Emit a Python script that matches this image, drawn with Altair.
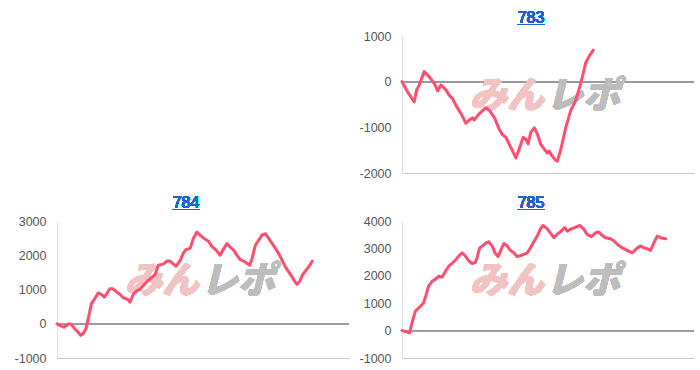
import altair as alt
import pandas as pd

# ---- data (x = position along the session, 0-100 of the axis span; y = balance) ----
titles = ["783", "784", "785"]

x783 = [0, 1.9, 3.6, 4.2, 5.0, 5.9, 7.6, 9.4, 11.1, 12.2, 13.3, 13.9, 15.1, 16.2, 17.3, 18.5,
        20.2, 21.9, 23.0, 24.2, 24.7, 26.5, 28.7, 29.9, 31.6, 33.3, 34.4, 35.6, 36.7, 37.9,
        39.0, 40.1, 41.5, 42.4, 43.2, 44.1, 45.3, 46.4, 47.5, 48.7, 49.8, 50.4, 51.2, 52.7,
        53.2, 54.4, 56.1, 57.8, 59.5, 60.7, 61.8, 62.9, 64.1, 65.5]
y783 = [0, -220, -390, -440, -185, -75, 220, 100, -40, -200, -75, -110, -185, -300, -370, -520,
        -700, -910, -840, -790, -840, -700, -570, -630, -780, -1040, -1160, -1220, -1370, -1520,
        -1670, -1480, -1220, -1260, -1360, -1110, -1010, -1150, -1370, -1480, -1560, -1520, -1610, -1730,
        -1740, -1480, -1000, -630, -410, -150, 110, 410, 560, 690]

x784 = [0, 0.9, 2.3, 3.2, 4.1, 4.9, 6.1, 7.2, 8.1, 8.9, 9.9, 10.7, 11.8, 12.9, 14.1, 15.2, 16.2,
        17.2, 18.1, 19.2, 20.4, 21.5, 22.7, 23.6, 24.4, 25.0, 26.1, 27.3, 28.4, 29.6, 30.7, 32.4,
        33.6, 34.7, 36.4, 37.6, 38.7, 39.9, 40.8, 42.2, 43.3, 44.2, 45.6, 46.7, 47.9, 49.0, 50.4,
        51.9, 53.0, 54.5, 55.9, 56.8, 58.2, 59.3, 60.5, 61.6, 62.8, 63.9, 65.1, 66.0, 66.8, 67.9,
        69.1, 70.2, 71.4, 72.5, 73.7, 74.8, 75.9, 77.1, 78.2, 79.4, 80.5, 81.3, 82.2, 83.2, 84.0,
        84.8, 85.9, 86.8, 87.4]
y784 = [0, -50, -100, -50, 0, -20, -150, -240, -340, -290, -150, 150, 590, 730, 900, 860, 780,
        900, 1020, 1020, 930, 860, 760, 730, 700, 630, 860, 960, 1000, 1120, 1220, 1350,
        1440, 1710, 1740, 1830, 1830, 1740, 1680, 1850, 2070, 2170, 2200, 2490, 2680, 2590, 2490,
        2410, 2260, 2150, 2000, 2150, 2340, 2240, 2150, 2000, 1870, 1830, 1760, 1710, 1900, 2290,
        2440, 2590, 2630, 2490, 2340, 2200, 2050, 1850, 1660, 1510, 1370, 1250, 1150, 1250, 1410,
        1510, 1630, 1740, 1830]

x785 = [0, 1.1, 2.6, 3.4, 4.6, 6.3, 7.4, 8.3, 9.1, 10.3, 11.4, 12.6, 13.7, 14.9, 16.0, 17.1, 18.3,
        19.4, 20.6, 21.7, 22.9, 24.0, 25.1, 25.7, 26.6, 27.8, 28.9, 29.7, 30.9, 31.8, 32.9, 33.7,
        34.9, 36.0, 37.1, 38.3, 39.4, 40.6, 41.7, 42.9, 44.0, 45.1, 46.3, 47.4, 48.3, 49.7, 50.9,
        52.0, 53.1, 54.5, 55.7, 56.6, 57.7, 59.1, 60.9, 62.1, 63.4, 64.8, 66.3, 67.4, 68.2, 69.7,
        71.4, 72.6, 73.7, 75.4, 77.1, 78.9, 80.0, 81.5, 82.9, 84.0, 85.1, 86.3, 87.4, 88.6, 90.3]
y785 = [0, -30, -80, 280, 710, 890, 1010, 1320, 1620, 1800, 1870, 1990, 1950, 2170, 2350, 2450, 2570,
        2720, 2840, 2720, 2540, 2450, 2480, 2660, 3020, 3110, 3210, 3240, 3090, 2840, 2700, 2900,
        3180, 3090, 2930, 2840, 2700, 2740, 2780, 2840, 3020, 3230, 3450, 3700, 3840, 3720, 3550,
        3390, 3510, 3630, 3760, 3630, 3700, 3760, 3840, 3720, 3510, 3430, 3570, 3600, 3510, 3390,
        3350, 3270, 3150, 3020, 2930, 2840, 2960, 3090, 3020, 2990, 2930, 3210, 3450, 3390, 3350]

y_ranges = [(-2000, 1000), (-1000, 3000), (-1000, 4000)]
watermark = ["みん", "レポ"]

W, H = 292, 137
LINE = "#ff4d6d"
TITLE_C = "#1a66cc"
FONT = "Liberation Sans"


def panel(title, xs, ys, yr):
    df = pd.DataFrame({"x": xs, "y": ys})
    base = alt.Chart(df)
    ticks = list(range(yr[0], yr[1] + 1, 1000))
    yscale = alt.Scale(domain=list(yr), nice=False, zero=False)
    yaxis = alt.Axis(values=ticks, labelExpr="'' + datum.value", labelOverlap=False, title=None,
                     tickCount=len(ticks), ticks=False, tickSize=0, labelPadding=11,
                     gridColor="#e4e4e4", domainColor="#e0e0e0", labelColor="#555555",
                     labelFontSize=12.5, labelFont=FONT)
    line = base.mark_line(color=LINE, strokeWidth=3, strokeJoin="round", strokeCap="round").encode(
        x=alt.X("x:Q", scale=alt.Scale(domain=[0, 100], nice=False, zero=False),
                axis=alt.Axis(labels=False, ticks=False, grid=False, title=None,
                              domainColor="#c8c8c8", domainWidth=1)),
        y=alt.Y("y:Q", scale=yscale, axis=yaxis),
    )
    zero = base.mark_rule(color="#9a9a9a", strokeWidth=1).encode(
        y=alt.YDatum(0, type="quantitative", scale=yscale, axis=yaxis))
    wm1 = base.mark_text(text=watermark[0], color="#f2c3c3", fontSize=37, fontWeight=900,
                         fontStyle="italic", font="Noto Sans CJK JP", align="right",
                         baseline="middle").encode(x=alt.value(W / 2 - 4), y=alt.value(H / 2 - 8))
    wm2 = base.mark_text(text=watermark[1], color="#bdbdbd", fontSize=37, fontWeight=900,
                         fontStyle="italic", font="Noto Sans CJK JP", align="left",
                         baseline="middle").encode(x=alt.value(W / 2 - 2), y=alt.value(H / 2 - 8))
    ttl = base.mark_text(text=title, color=TITLE_C, fontSize=16, font=FONT, align="center",
                         baseline="alphabetic").encode(x=alt.value(W / 2 - 17), y=alt.value(-13))
    uline = base.mark_rule(color=TITLE_C, strokeWidth=1).encode(
        x=alt.value(W / 2 - 17 - 14), x2=alt.value(W / 2 - 17 + 14), y=alt.value(-11.5))
    return alt.layer(zero, wm1, wm2, line, ttl, uline).properties(width=W, height=H)


spacer = alt.Chart(pd.DataFrame({"a": [0]})).mark_point(opacity=0).encode(
    x=alt.value(0), y=alt.value(0)).properties(width=1, height=1)

c783 = panel(titles[0], x783, y783, y_ranges[0])
c784 = panel(titles[1], x784, y784, y_ranges[1])
c785 = panel(titles[2], x785, y785, y_ranges[2])

chart = alt.concat(spacer, c783, c784, c785, columns=2,
                   spacing={"row": 15, "column": 9}).properties(
    padding={"left": 14, "top": 10, "right": 0, "bottom": 0},
    background="white",
).configure_view(stroke=None)

chart.save("out.html", embed_options={"renderer": "svg", "actions": False})
